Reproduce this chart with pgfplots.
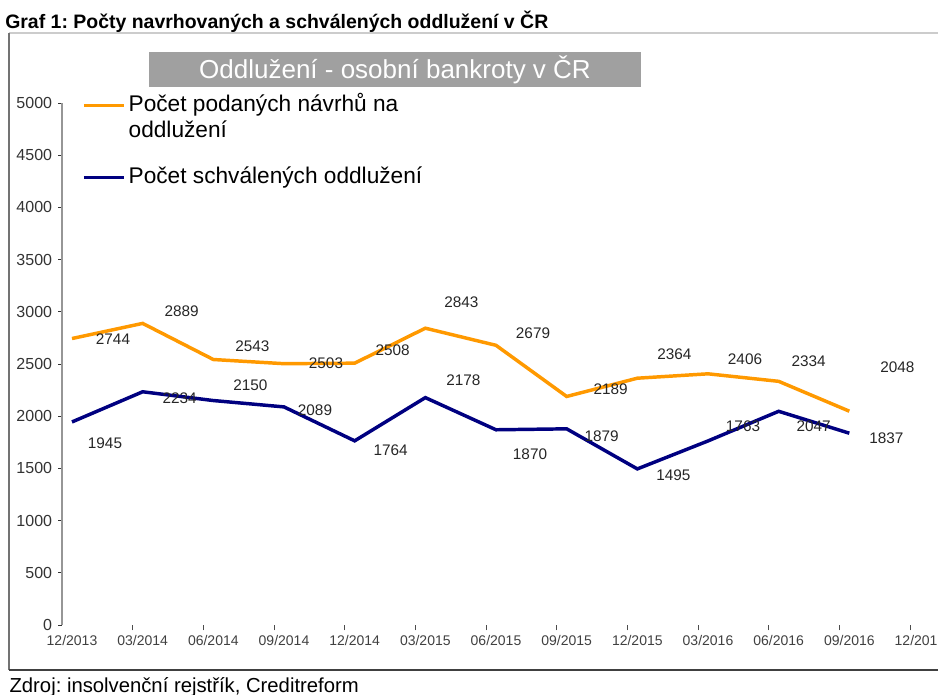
\documentclass[border=0pt]{standalone}
\usepackage{fontspec}
\setmainfont{Liberation Sans}
\usepackage{pgfplots}
\usepackage{pgfplotstable}
\pgfplotsset{compat=1.18}
\frenchspacing
\definecolor{orng}{RGB}{255,153,0}
\definecolor{navyb}{RGB}{0,0,128}
\definecolor{boxgray}{RGB}{160,160,160}
\definecolor{axgray}{RGB}{150,150,150}

\pgfplotstableread{
x y dx dy
0 2744 30.75 -0.75
1 2889 29.25 9
2 2543 29.25 9.75
3 2503 31.5 0
4 2508 28.5 9.75
5 2843 27 19.5
6 2679 27.75 9
7 2189 33 5.25
8 2364 27.75 18
9 2406 27.75 11.25
10 2334 22.5 15
11 2048 36 33
}\navrhy

\pgfplotstableread{
x y dx dy
0 1945 24.75 -15.75
1 2234 27.75 -4.5
2 2150 27.75 11.25
3 2089 23.25 -2.25
4 1764 27 -6.75
5 2178 28.5 12.75
6 1870 25.5 -18
7 1879 26.25 -5.25
8 1495 27 -4.5
9 1763 26.25 11.25
10 2047 26.25 -11.25
11 1837 27.75 -3.75
}\schvalene

\begin{document}
\begin{tikzpicture}
\begin{axis}[
  anchor=origin, at={(0pt,0pt)},
  x=53pt, y=0.0783pt,
  xmin=-0.14, xmax=12.3,
  ymin=0, ymax=5000,
  clip=false,
  axis x line*=bottom,
  axis y line*=left,
  x axis line style={draw=none},
  y axis line style={draw=axgray, line width=1.3pt, -},
  xtick={0,...,12},
  xticklabels={12/2013,03/2014,06/2014,09/2014,12/2014,03/2015,06/2015,09/2015,12/2015,03/2016,06/2016,09/2016,12/2016},
  major x tick style={draw=none},
  minor xtick={0.86,1.86,2.86,3.86,4.86,5.86,6.86,7.86,8.86,9.86,10.86,11.86},
  minor x tick style={draw=black!70, line width=0.6pt},
  minor tick length=4pt,
  ytick={0,500,...,5000},
  major tick length=3pt,
  tick align=outside,
  y tick style={draw=black!80, line width=0.6pt},
  /pgf/number format/assume math mode=true,
  /pgf/number format/1000 sep={},
  xticklabel style={font=\fontsize{10.5}{12}\selectfont, text=black!75, yshift=-1pt},
  yticklabel style={font=\fontsize{12}{14}\selectfont, text=black!80, xshift=-1pt},
  legend style={at={(0.0228,1.02)}, anchor=north west, draw=none, fill=none,
    inner sep=0pt, row sep=40.5pt,
    font=\fontsize{17}{19.5}\selectfont,
    cells={anchor=base west},
    nodes={inner sep=0pt, inner xsep=2.5pt}},
  legend image code/.code={\draw[#1, line width=2.2pt] (0pt,4.5pt) -- (30pt,4.5pt);},
  nodes near coords,
  point meta=explicit symbolic,
  nodes near coords align={center},
]
\addplot[orng, line width=2.6pt,
  visualization depends on={\thisrow{dx} \as \dx},
  visualization depends on={\thisrow{dy} \as \dy},
  every node near coord/.append style={anchor=center, xshift=\dx pt, yshift=\dy pt,
     font=\fontsize{11.5}{13}\selectfont, text=black!85}]
  table[x=x, y=y, meta=y] {\navrhy};
\addlegendentry{\parbox[t]{300pt}{Počet podaných návrhů na\\oddlužení}}
\addplot[navyb, line width=2.6pt,
  visualization depends on={\thisrow{dx} \as \dx},
  visualization depends on={\thisrow{dy} \as \dy},
  every node near coord/.append style={anchor=center, xshift=\dx pt, yshift=\dy pt,
     font=\fontsize{11.5}{13}\selectfont, text=black!85}]
  table[x=x, y=y, meta=y] {\schvalene};
\addlegendentry{Počet schválených oddlužení}
\end{axis}
% title box
\node[fill=boxgray, text=white, minimum width=369pt, minimum height=26.25pt, inner sep=0pt,
  font=\fontsize{19.5}{22}\selectfont] at (242.25pt,416.6pt) {Oddlužení - osobní bankroty v ČR};
% frame
\draw[line width=0.9pt, black!20] (-47.25pt,444pt) -- (660pt,444pt);
\draw[line width=0.9pt, black!55] (-47.25pt,444pt) -- (-47.25pt,-33.75pt);
\draw[line width=1.3pt, black!75] (-47.25pt,-33.75pt) -- (660pt,-33.75pt);
\node[anchor=base west, inner sep=0pt, font=\bfseries\fontsize{14.6}{16}\selectfont] at (-50.25pt,447.5pt)
  {Graf 1: Počty navrhovaných a schválených oddlužení v ČR};
\node[anchor=base west, inner sep=0pt, font=\fontsize{15.2}{17}\selectfont] at (-47pt,-50.5pt)
  {Zdroj: insolvenční rejstřík, Creditreform};
\pgfresetboundingbox
\useasboundingbox (-54pt,-51.75pt) rectangle (649.5pt,468.75pt);
\end{tikzpicture}
\end{document}
